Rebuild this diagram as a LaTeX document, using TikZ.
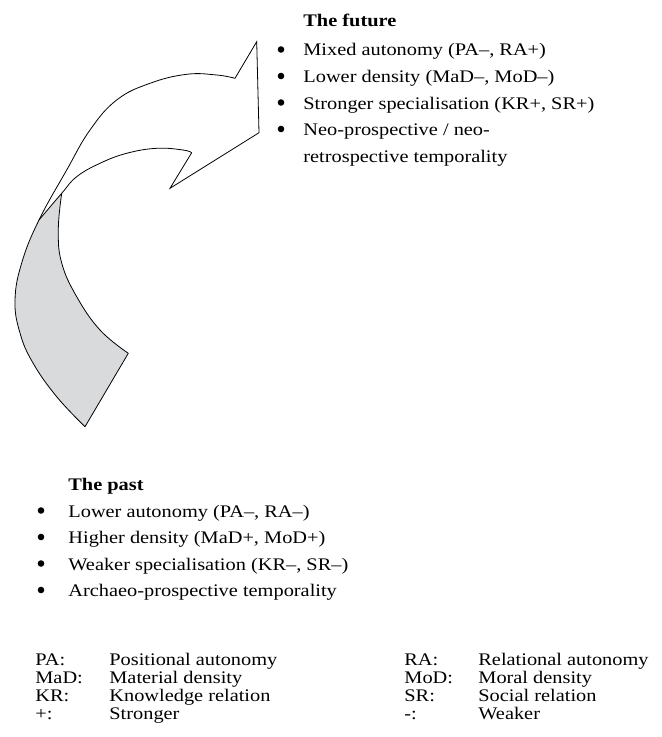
\documentclass[tikz,border=0pt]{standalone}
\usepackage{fontspec}
\setmainfont{Liberation Serif}[FakeStretch=1.15]
\newcommand\diafs{\fontsize{17.7bp}{21bp}\selectfont}
\definecolor{arrowgrey}{RGB}{217,218,220}
\begin{document}
\begin{tikzpicture}[x=1bp,y=-1bp,line width=0.8bp,line join=miter,
  txt/.style={anchor=base west,inner sep=0pt,font=\diafs},
  ttl/.style={anchor=base west,inner sep=0pt,font=\diafs\bfseries},
  bul/.style={circle,fill=black,inner sep=0pt,minimum size=6.6bp},
  outline/.style={draw=black,line width=0.8bp}]
\useasboundingbox (0,0) rectangle (662,737);
% ---------- twisted arrow ----------
% grey (back) face
\fill[arrowgrey] (61.7,193.3)
  -- plot[smooth,tension=0.7] coordinates {(61.7,193.3) (58.3,230) (61.7,263) (76.7,296.7) (100,330) (128.3,353.3)}
  -- (85,426.7)
  -- plot[smooth,tension=0.7] coordinates {(85,426.7) (56.7,396.7) (33,363) (20,333) (15,300) (22,262) (39,220)}
  -- plot[smooth,tension=0.7] coordinates {(39,220) (61.7,193.3)}
  -- cycle;
% white (front) face
\fill[white] (235,78.3)
  -- plot[smooth,tension=0.7] coordinates {(235,78.3) (216.7,75) (186.7,74.3) (150,83.3) (116.7,100) (90,130) (66.7,170) (39,220)}
  -- plot[smooth,tension=0.7] coordinates {(39,220) (61.7,193.3) (76.7,176.7) (100,163.3) (126.7,153.3) (156.7,148.3) (183,150) (191.7,152.7)}
  -- (170,188.3) -- (259,132.7) -- (256.7,41.7) -- cycle;
% outlines
\draw[outline] plot[smooth,tension=0.7] coordinates {(235,78.3) (216.7,75) (186.7,74.3) (150,83.3) (116.7,100) (90,130) (66.7,170) (39,220) (22,262) (15,300) (20,333) (33,363) (56.7,396.7) (85,426.7)};
\draw[outline] plot[smooth,tension=0.7] coordinates {(39,220) (61.7,193.3) (76.7,176.7) (100,163.3) (126.7,153.3) (156.7,148.3) (183,150) (191.7,152.7)};
\draw[outline] plot[smooth,tension=0.7] coordinates {(61.7,193.3) (58.3,230) (61.7,263) (76.7,296.7) (100,330) (128.3,353.3)};
\draw[outline] (85,426.7) -- (128.3,353.3);
\draw[outline] (191.7,152.7) -- (170,188.3) -- (259,132.7) -- (256.7,41.7) -- (235,78.3);
% ---------- the future ----------
\node[ttl] (fut) at (303,27) {The future};
\node[bul] (fb1) at (281,49.5) {};
\node[txt] (ft1) at (303,56) {Mixed autonomy (PA–, RA+)};
\node[bul] (fb2) at (281,76) {};
\node[txt] (ft2) at (303,82.5) {Lower density (MaD–, MoD–)};
\node[bul] (fb3) at (281,102.5) {};
\node[txt] (ft3) at (303,109) {Stronger specialisation (KR+, SR+)};
\node[bul] (fb4) at (281,129) {};
\node[txt] (ft4) at (303,135.5) {Neo-prospective / neo-};
\node[txt] (ft5) at (303,162) {retrospective temporality};
% ---------- the past ----------
\node[ttl] (pst) at (68,490) {The past};
\node[bul] (pb1) at (41,510.5) {};
\node[txt] (pt1) at (68,517) {Lower autonomy (PA–, RA–)};
\node[bul] (pb2) at (41,537) {};
\node[txt] (pt2) at (68,543.5) {Higher density (MaD+, MoD+)};
\node[bul] (pb3) at (41,563.5) {};
\node[txt] (pt3) at (68,570) {Weaker specialisation (KR–, SR–)};
\node[bul] (pb4) at (41,590) {};
\node[txt] (pt4) at (68,596.5) {Archaeo-prospective temporality};
% ---------- legend ----------
\node[txt] (la1) at (35,665) {PA:};
\node[txt] (ld1) at (109,665) {Positional autonomy};
\node[txt] (la2) at (35,683) {MaD:};
\node[txt] (ld2) at (109,683) {Material density};
\node[txt] (la3) at (35,701) {KR:};
\node[txt] (ld3) at (109,701) {Knowledge relation};
\node[txt] (la4) at (35,719) {+:};
\node[txt] (ld4) at (109,719) {Stronger};
\node[txt] (ra1) at (404,665) {RA:};
\node[txt] (rd1) at (478,665) {Relational autonomy};
\node[txt] (ra2) at (404,683) {MoD:};
\node[txt] (rd2) at (478,683) {Moral density};
\node[txt] (ra3) at (404,701) {SR:};
\node[txt] (rd3) at (478,701) {Social relation};
\node[txt] (ra4) at (404,719) {-:};
\node[txt] (rd4) at (478,719) {Weaker};
\end{tikzpicture}
\end{document}
